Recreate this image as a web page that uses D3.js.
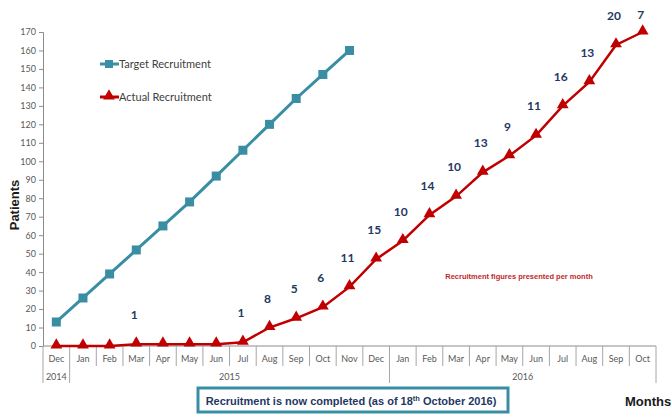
<!DOCTYPE html>
<html>
<head>
<meta charset="utf-8">
<script src="https://cdn.jsdelivr.net/npm/d3@7"></script>
<style>
  body { margin: 0; background: #fff; }
  svg { display: block; }
</style>
</head>
<body>
<div id="chart"></div>
<script>
// months shown on the x axis, Dec 2014 .. Oct 2016
const months = ['Dec', 'Jan', 'Feb', 'Mar', 'Apr', 'May', 'Jun', 'Jul', 'Aug', 'Sep', 'Oct', 'Nov',
  'Dec', 'Jan', 'Feb', 'Mar', 'Apr', 'May', 'Jun', 'Jul', 'Aug', 'Sep', 'Oct'];
const years = [
  { label: '2014', from: 0, to: 0 },
  { label: '2015', from: 1, to: 12 },
  { label: '2016', from: 13, to: 22 }
];
const target = [13, 26, 39, 52, 65, 78, 92, 106, 120, 134, 147, 160];
const actual = [0, 0, 0, 1, 1, 1, 1, 2, 10, 15, 21, 32, 47, 57, 71, 81, 94, 103, 114, 130, 143, 163, 170];
const perMonth = [null, null, null, 1, null, null, null, 1, 8, 5, 6, 11, 15, 10, 14, 10, 13, 9, 11, 16, 13, 20, 7];
const yTicks = d3.range(0, 171, 10);

const W = 672, H = 417;
const margin = { top: 32, right: 16, bottom: 71, left: 43 };
const teal = '#3a8ea4';
const red = '#c00000';
const navy = '#1f3864';

const svg = d3.select('#chart').append('svg').attr('width', W).attr('height', H);

const idx = months.map((_, i) => i);
const x = d3.scaleBand().domain(idx).range([margin.left, W - margin.right]);
const y = d3.scaleLinear().domain([0, 170]).range([H - margin.bottom, margin.top]);
const cx = (i) => x(i) + x.bandwidth() / 2;

// y axis
const yAxis = svg.append('g')
  .attr('transform', `translate(${margin.left},0)`)
  .call(d3.axisLeft(y).tickValues(yTicks).tickSize(4).tickPadding(3));
yAxis.select('.domain').attr('stroke', '#8c8c8c');
yAxis.selectAll('.tick line').attr('stroke', '#8c8c8c');
yAxis.selectAll('text').attr('fill', '#595959').attr('font-family', 'Lato, sans-serif').attr('font-size', 9);

// x axis line
const y0 = y(0);
svg.append('line')
  .attr('x1', margin.left).attr('x2', W - margin.right)
  .attr('y1', y0).attr('y2', y0)
  .attr('stroke', '#8c8c8c');

// month separators, longer ones at year edges
const yearEdges = new Set([0, ...years.map((d) => d.to + 1)]);
d3.range(0, months.length + 1).forEach((i) => {
  const xp = i < months.length ? x(i) : x(months.length - 1) + x.bandwidth();
  svg.append('line')
    .attr('x1', xp).attr('x2', xp)
    .attr('y1', y0).attr('y2', yearEdges.has(i) ? y0 + 37 : y0 + 20)
    .attr('stroke', '#a6a6a6');
});

svg.append('g').selectAll('text').data(months).join('text')
  .attr('x', (_, i) => cx(i))
  .attr('y', y0 + 16)
  .attr('text-anchor', 'middle')
  .attr('font-family', 'Lato, sans-serif').attr('font-size', 9).attr('fill', '#595959')
  .text((d) => d);

svg.append('g').selectAll('text').data(years).join('text')
  .attr('x', (d) => (x(d.from) + x(d.to) + x.bandwidth()) / 2)
  .attr('y', y0 + 34)
  .attr('text-anchor', 'middle')
  .attr('font-family', 'Lato, sans-serif').attr('font-size', 9).attr('fill', '#595959')
  .text((d) => d.label);

// lines
const line = d3.line().x((d, i) => cx(i)).y((d) => y(d));

svg.append('path').datum(actual)
  .attr('d', line).attr('fill', 'none').attr('stroke', red).attr('stroke-width', 2.5);
svg.append('path').datum(target)
  .attr('d', line).attr('fill', 'none').attr('stroke', teal).attr('stroke-width', 3);

const tri = d3.symbol().type(d3.symbolTriangle).size(60);
svg.append('g').selectAll('path').data(actual).join('path')
  .attr('d', tri)
  .attr('transform', (d, i) => `translate(${cx(i)},${y(d) - 1})`)
  .attr('fill', red);

svg.append('g').selectAll('rect').data(target).join('rect')
  .attr('x', (d, i) => cx(i) - 4.5).attr('y', (d) => y(d) - 4.5)
  .attr('width', 9).attr('height', 9)
  .attr('fill', teal);

// monthly recruitment labels
svg.append('g').selectAll('text')
  .data(perMonth.map((v, i) => ({ v, i })).filter((d) => d.v !== null))
  .join('text')
  .attr('x', (d) => cx(d.i) - 2)
  .attr('y', (d) => Math.max(y(actual[d.i]) - 25, 19))
  .attr('text-anchor', 'middle')
  .attr('font-family', 'Lato, sans-serif').attr('font-weight', 'bold').attr('font-size', 12)
  .attr('fill', navy)
  .text((d) => d.v);

// legend
const legend = [
  { name: 'Target Recruitment', color: teal, kind: 'square', y: 64 },
  { name: 'Actual Recruitment', color: red, kind: 'triangle', y: 97 }
];
legend.forEach((l) => {
  svg.append('line')
    .attr('x1', 100).attr('x2', 119).attr('y1', l.y).attr('y2', l.y)
    .attr('stroke', l.color).attr('stroke-width', 3);
  if (l.kind === 'square') {
    svg.append('rect').attr('x', 105).attr('y', l.y - 4).attr('width', 8).attr('height', 8).attr('fill', l.color);
  } else {
    svg.append('path').attr('d', tri).attr('transform', `translate(109,${l.y - 1})`).attr('fill', l.color);
  }
  svg.append('text')
    .attr('x', 119).attr('y', l.y + 4)
    .attr('font-family', 'Lato, sans-serif').attr('font-size', 11).attr('fill', '#404040')
    .text(l.name);
});

// annotation
svg.append('text')
  .attr('x', 519).attr('y', 279)
  .attr('text-anchor', 'middle')
  .attr('font-family', 'Liberation Sans, Arial, sans-serif').attr('font-weight', 'bold').attr('font-size', 7.5)
  .attr('fill', '#c0272d')
  .text('Recruitment figures presented per month');

// axis titles
svg.append('text')
  .attr('transform', 'translate(19,205) rotate(-90)')
  .attr('text-anchor', 'middle')
  .attr('font-family', 'Liberation Sans, Arial, sans-serif').attr('font-weight', 'bold').attr('font-size', 13)
  .attr('fill', '#1a1a1a')
  .text('Patients');

svg.append('text')
  .attr('x', 625).attr('y', 406)
  .attr('font-family', 'Liberation Sans, Arial, sans-serif').attr('font-weight', 'bold').attr('font-size', 13)
  .attr('fill', '#1a1a1a')
  .text('Months');

// completion box
svg.append('rect')
  .attr('x', 198).attr('y', 388).attr('width', 310).attr('height', 24)
  .attr('fill', '#fff').attr('stroke', teal).attr('stroke-width', 3);
const note = svg.append('text')
  .attr('x', 351).attr('y', 405)
  .attr('text-anchor', 'middle')
  .attr('font-family', 'Liberation Sans, Arial, sans-serif').attr('font-weight', 'bold').attr('font-size', 11)
  .attr('fill', navy);
note.append('tspan').text('Recruitment is now completed (as of 18');
note.append('tspan').attr('font-size', 7.5).attr('dy', -4).text('th');
note.append('tspan').attr('dy', 4).text(' October 2016)');
</script>
</body>
</html>
